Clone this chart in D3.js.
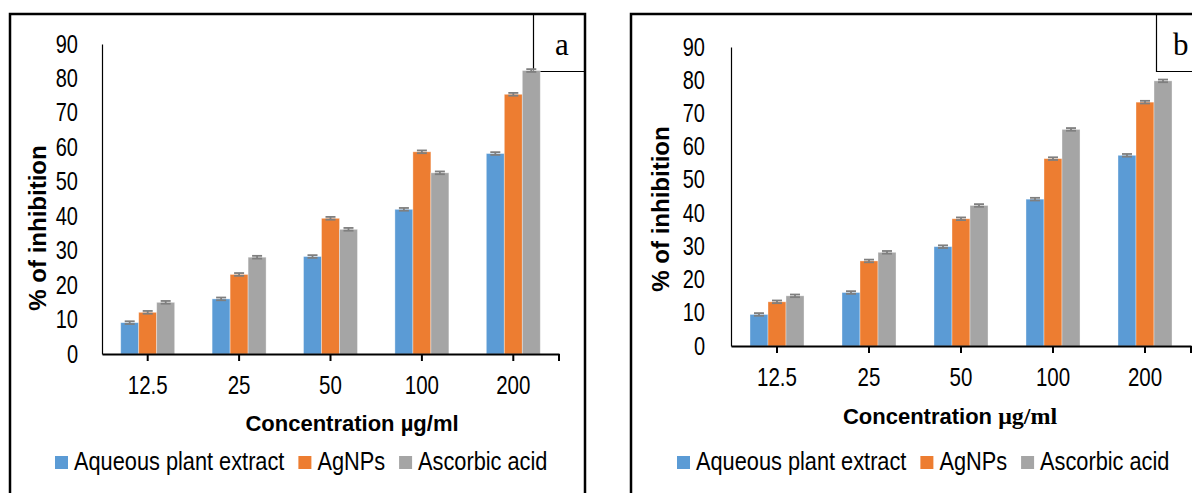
<!DOCTYPE html>
<html>
<head>
<meta charset="utf-8">
<script src="https://cdn.jsdelivr.net/npm/d3@7"></script>
<style>
  html, body { margin: 0; padding: 0; background: #fff; }
  svg { display: block; }
</style>
</head>
<body>
<svg id="chart" width="1192" height="493"></svg>
<script>
// Concentrations (µg/ml) on the category axis
const categories = ["12.5", "25", "50", "100", "200"];
const seriesNames = ["Aqueous plant extract", "AgNPs", "Ascorbic acid"];
const yTickValues = [0, 10, 20, 30, 40, 50, 60, 70, 80, 90];

// Panel a: % of inhibition
const extractA   = [9.1, 16.0, 28.3, 42.0, 58.2];
const agnpsA     = [12.1, 23.1, 39.4, 58.7, 75.4];
const ascorbicA  = [15.0, 28.1, 36.2, 52.6, 82.3];

// Panel b: % of inhibition
const extractB   = [9.5, 16.1, 29.9, 44.2, 57.4];
const agnpsB     = [13.3, 25.6, 38.3, 56.4, 73.4];
const ascorbicB  = [15.1, 28.2, 42.3, 65.2, 79.8];

// Standard deviations (error bars)
const errExtractA  = [0.4, 0.4, 0.4, 0.4, 0.4];
const errAgnpsA    = [0.4, 0.4, 0.4, 0.4, 0.4];
const errAscorbicA = [0.4, 0.4, 0.4, 0.4, 0.4];
const errExtractB  = [0.4, 0.4, 0.4, 0.4, 0.4];
const errAgnpsB    = [0.4, 0.4, 0.4, 0.4, 0.4];
const errAscorbicB = [0.4, 0.4, 0.4, 0.4, 0.4];

const colors = ["#5b9bd5", "#ed7d31", "#a5a5a5"];
const capColor = "#7f7f7f";

const sans = "'Liberation Sans', Arial, sans-serif";
const serif = "'Liberation Serif', 'Times New Roman', serif";

const svg = d3.select("#chart");

// squeeze a text horizontally to imitate a condensed face
function condense(sel, k) {
  sel.each(function () {
    const w = this.getComputedTextLength();
    d3.select(this).attr("textLength", w * k).attr("lengthAdjust", "spacingAndGlyphs");
  });
}

function drawPanel(cfg) {
  const g = svg.append("g");

  // frame
  g.append("path")
    .attr("d", `M${cfg.frameLeft},500 V${cfg.frameTop} H${cfg.frameRight}` +
               (cfg.frameRightEdge ? ` V500` : ""))
    .attr("fill", "none").attr("stroke", "#000").attr("stroke-width", 2.5);

  // panel letter box
  g.append("path")
    .attr("d", `M${cfg.boxX},${cfg.frameTop} V${cfg.boxBottom} H${cfg.frameRight}`)
    .attr("fill", "none").attr("stroke", "#000").attr("stroke-width", 1.2);
  g.append("text")
    .attr("x", cfg.letterX).attr("y", cfg.letterY)
    .attr("text-anchor", cfg.letterAnchor)
    .style("font-family", serif).style("font-size", "31px")
    .text(cfg.letter);

  const x0 = d3.scaleBand().domain(categories).range([cfg.plotLeft, cfg.plotRight]).padding(0);
  const x1 = d3.scaleBand().domain(seriesNames).range([0, x0.bandwidth()])
    .paddingInner(0).paddingOuter(cfg.barOuterPad);
  const y = d3.scaleLinear().domain([0, 90]).range([cfg.plotBottom, cfg.plotTop]);

  const rows = [];
  cfg.series.forEach((vals, si) => {
    vals.forEach((v, ci) => {
      rows.push({ cat: categories[ci], name: seriesNames[si], v, err: cfg.errors[si][ci], si });
    });
  });

  // bars
  g.append("g").selectAll("rect").data(rows).join("rect")
    .attr("x", d => x0(d.cat) + x1(d.name))
    .attr("y", d => y(d.v))
    .attr("width", x1.bandwidth())
    .attr("height", d => y(0) - y(d.v))
    .attr("fill", d => colors[d.si])
    .attr("stroke", "rgba(255,255,255,0.45)")
    .attr("stroke-width", 0.8);

  // error bars with caps
  const capW = 10;
  const eg = g.append("g").attr("stroke", capColor).attr("stroke-width", 1.8);
  rows.forEach(d => {
    const cx = x0(d.cat) + x1(d.name) + x1.bandwidth() / 2;
    eg.append("line").attr("x1", cx).attr("x2", cx)
      .attr("y1", y(d.v - d.err)).attr("y2", y(d.v + d.err));
    [d.v - d.err, d.v + d.err].forEach(e => {
      eg.append("line").attr("x1", cx - capW / 2).attr("x2", cx + capW / 2)
        .attr("y1", y(e)).attr("y2", y(e));
    });
  });

  // y axis
  const yAxis = g.append("g")
    .attr("transform", `translate(${cfg.plotLeft},0)`)
    .call(d3.axisLeft(y).tickValues(yTickValues).tickSize(0).tickSizeOuter(0).tickPadding(cfg.yLabelPad));
  yAxis.select(".domain").attr("stroke", "#000").attr("stroke-width", 1.2);
  yAxis.selectAll("text")
    .style("font-family", sans).style("font-size", "25px").attr("fill", "#000")
    .call(condense, 0.8);

  // x axis
  const xAxis = g.append("g")
    .attr("transform", `translate(0,${cfg.plotBottom})`)
    .call(d3.axisBottom(x0).tickSizeInner(7).tickSizeOuter(0));
  xAxis.select(".domain").attr("stroke", "#000").attr("stroke-width", 2.2);
  xAxis.selectAll(".tick line").attr("stroke", "#000").attr("stroke-width", 2);
  xAxis.selectAll("text")
    .attr("y", cfg.xLabelOffset).attr("dy", 0)
    .style("font-family", sans).style("font-size", "25px").attr("fill", "#000")
    .call(condense, 0.82);
  xAxis.append("line")
    .attr("x1", cfg.plotRight).attr("x2", cfg.plotRight)
    .attr("y1", 0).attr("y2", 7)
    .attr("stroke", "#000").attr("stroke-width", 2);

  // axis titles
  g.append("text")
    .attr("transform", `translate(${cfg.yTitleX},${cfg.yTitleY}) rotate(-90)`)
    .attr("text-anchor", "middle")
    .style("font-family", sans).style("font-weight", "bold").style("font-size", "24px")
    .text("% of inhibition");

  const xt = g.append("text")
    .attr("x", cfg.xTitleX).attr("y", cfg.xTitleY)
    .attr("text-anchor", "middle")
    .style("font-family", sans).style("font-weight", "bold").style("font-size", "22px");
  xt.append("tspan").text("Concentration ");
  xt.append("tspan").style("font-family", cfg.unitSerif ? serif : sans)
    .style("font-size", cfg.unitSerif ? "24px" : "22px")
    .text(cfg.unitSerif ? "μg/ml" : "µg/ml");

  // legend
  const lg = g.append("g");
  let lx = cfg.legendX;
  seriesNames.forEach((name, i) => {
    lg.append("rect").attr("x", lx).attr("y", cfg.legendY - 14)
      .attr("width", 13).attr("height", 13).attr("fill", colors[i]);
    const t = lg.append("text").attr("x", lx + 19).attr("y", cfg.legendY)
      .style("font-family", sans).style("font-size", "25px").attr("fill", "#000")
      .text(name);
    const w = t.node().getComputedTextLength() * 0.87;
    t.attr("textLength", w).attr("lengthAdjust", "spacingAndGlyphs");
    lx += 19 + w + 14;
  });
}

drawPanel({
  letter: "a", letterX: 562, letterY: 55, letterAnchor: "middle",
  frameLeft: 10, frameTop: 14, frameRight: 585, frameRightEdge: true,
  boxX: 533.5, boxBottom: 71.5,
  plotLeft: 102, plotRight: 559, plotTop: 44, plotBottom: 354,
  barOuterPad: 1.04, yLabelPad: 24, xLabelOffset: 40,
  yTitleX: 46, yTitleY: 228, xTitleX: 352, xTitleY: 431,
  unitSerif: false, legendX: 55, legendY: 470,
  series: [extractA, agnpsA, ascorbicA],
  errors: [errExtractA, errAgnpsA, errAscorbicA]
});

drawPanel({
  letter: "b", letterX: 1173, letterY: 55, letterAnchor: "start",
  frameLeft: 631, frameTop: 14, frameRight: 1200, frameRightEdge: false,
  boxX: 1156.5, boxBottom: 71.5,
  plotLeft: 731, plotRight: 1191, plotTop: 47, plotBottom: 346,
  barOuterPad: 1.055, yLabelPad: 26, xLabelOffset: 40,
  yTitleX: 669, yTitleY: 209, xTitleX: 950, xTitleY: 424,
  unitSerif: true, legendX: 677, legendY: 470,
  series: [extractB, agnpsB, ascorbicB],
  errors: [errExtractB, errAgnpsB, errAscorbicB]
});
</script>
</body>
</html>
